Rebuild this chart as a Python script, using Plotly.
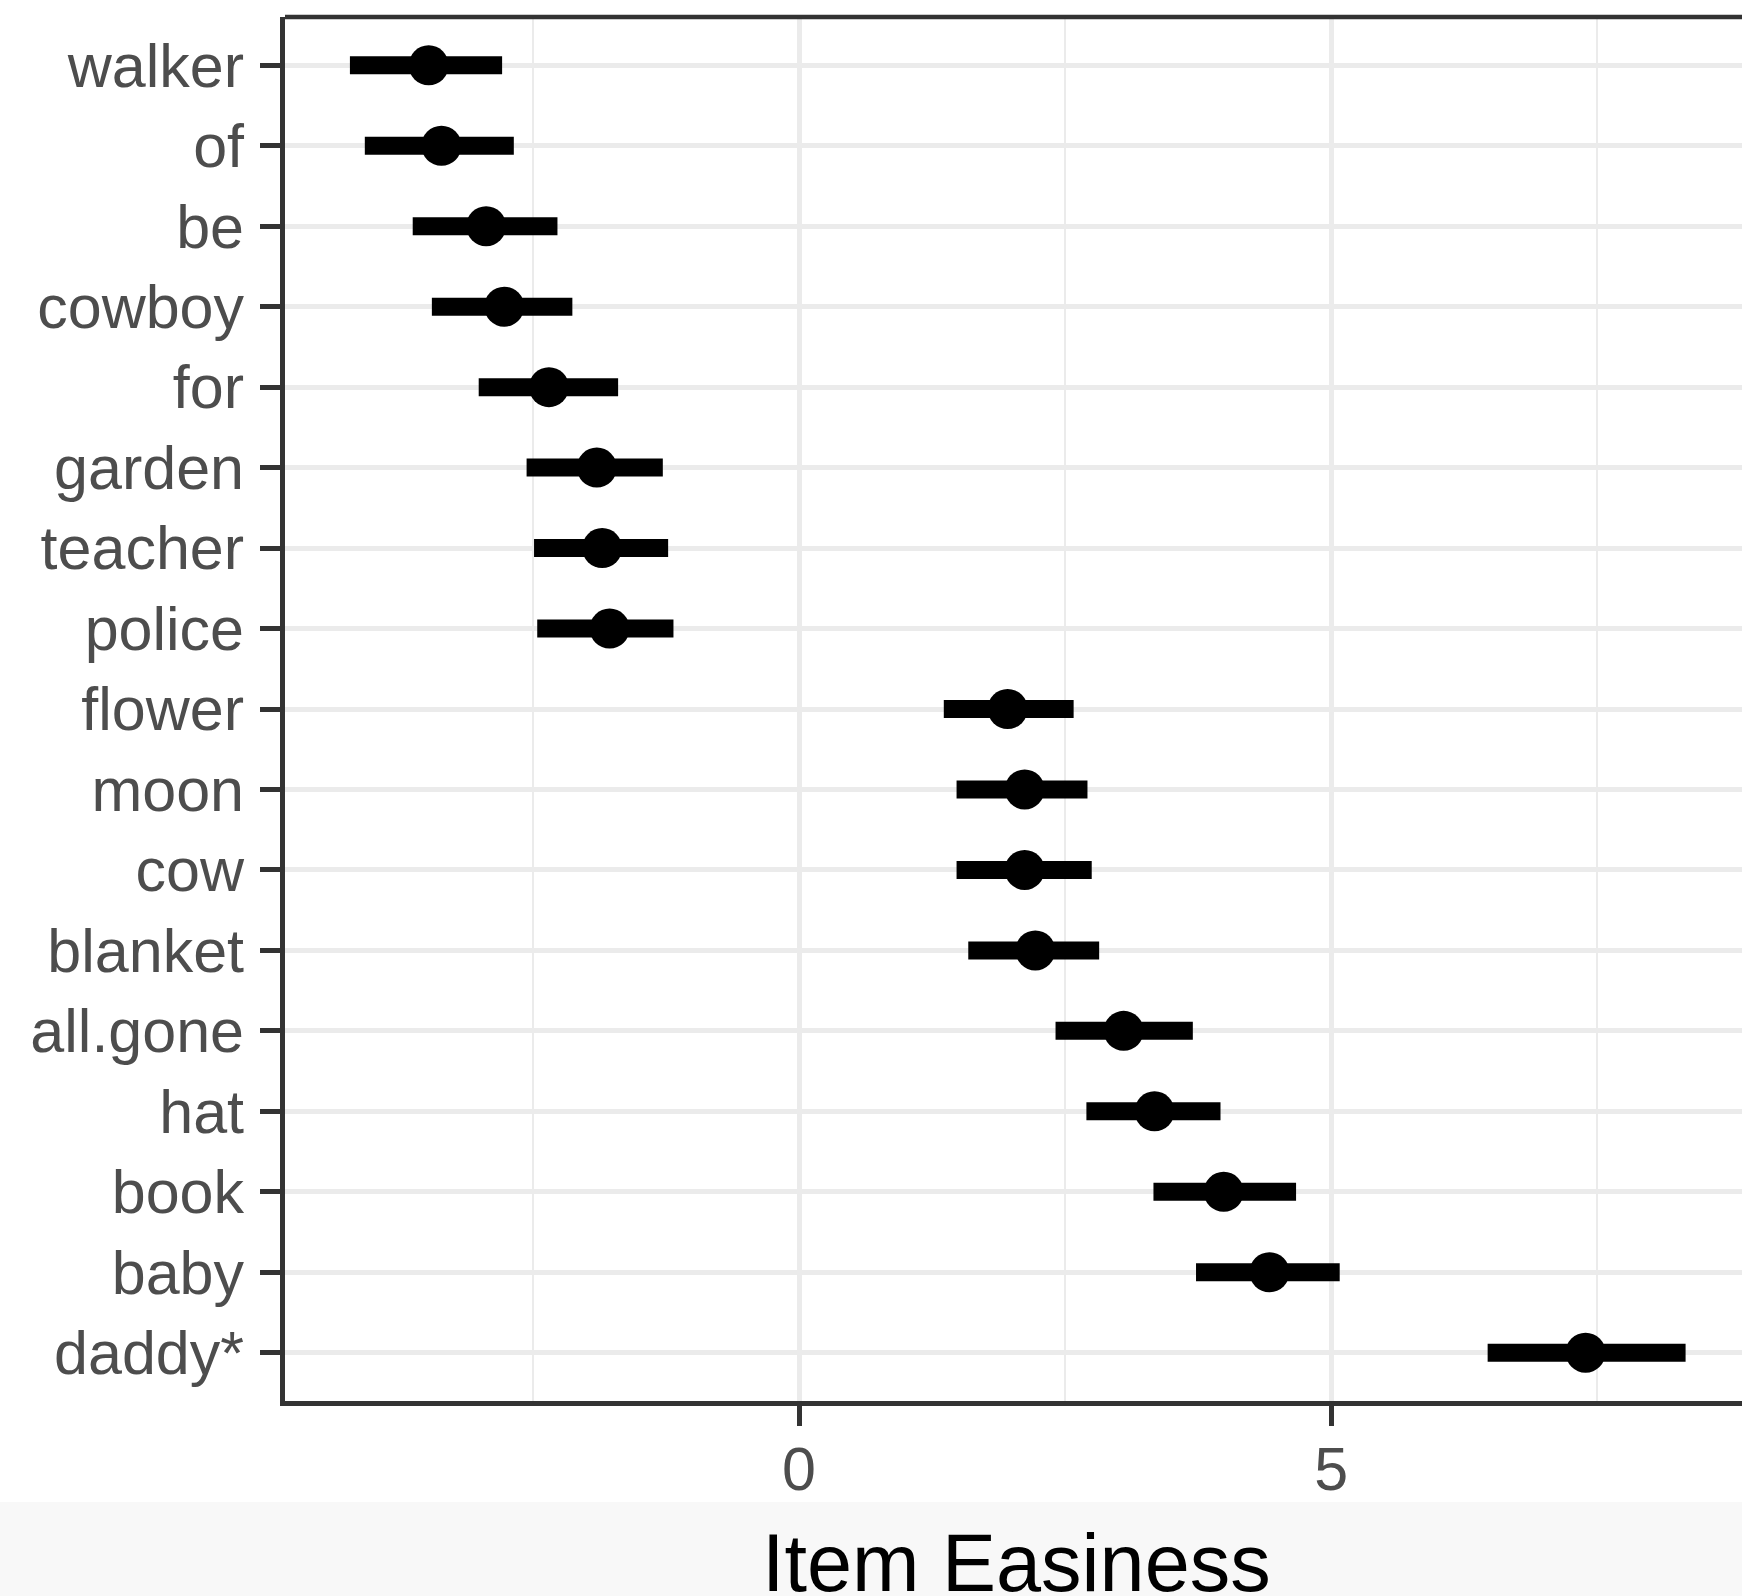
import plotly.graph_objects as go

items = ["walker", "of", "be", "cowboy", "for", "garden", "teacher", "police",
         "flower", "moon", "cow", "blanket", "all.gone", "hat", "book", "baby", "daddy*"]
easiness = [-3.48, -3.36, -2.94, -2.77, -2.35, -1.90, -1.85, -1.78,
            1.96, 2.12, 2.12, 2.22, 3.05, 3.34, 3.99, 4.42, 7.39]
lower = [-4.22, -4.08, -3.63, -3.45, -3.01, -2.56, -2.49, -2.46,
         1.36, 1.48, 1.48, 1.59, 2.41, 2.70, 3.33, 3.73, 6.47]
upper = [-2.79, -2.68, -2.27, -2.13, -1.70, -1.28, -1.23, -1.18,
         2.58, 2.71, 2.75, 2.82, 3.70, 3.96, 4.67, 5.08, 8.33]
x_ticks = [0, 5]
x_title = "Item Easiness"

W, H = 1742, 1596
L, R, T, B = 285, 0, 17, 195
ph = H - T - B

fig = go.Figure()
fig.add_trace(go.Scatter(
    x=easiness, y=items, mode="markers",
    marker=dict(color="black", size=40, line=dict(width=0)),
    error_x=dict(type="data", symmetric=False,
                 array=[u - e for u, e in zip(upper, easiness)],
                 arrayminus=[e - l for e, l in zip(easiness, lower)],
                 thickness=18, width=0, color="black"),
    showlegend=False, cliponaxis=False,
))

border = "#333333"
fig.update_layout(
    width=W, height=H,
    margin=dict(l=L, r=R, t=T, b=B, pad=0, autoexpand=False),
    paper_bgcolor="white", plot_bgcolor="white",
    font=dict(family="Liberation Sans, Arial, sans-serif", color="#4d4d4d", size=61),
    xaxis=dict(
        range=[-4.83, 8.86], tickmode="array", tickvals=x_ticks,
        ticktext=[str(v) for v in x_ticks],
        showgrid=True, gridcolor="#ebebeb", gridwidth=4.5,
        minor=dict(tickmode="linear", tick0=0, dtick=2.5, showgrid=True,
                   gridcolor="#ebebeb", gridwidth=2.3, ticks=""),
        zeroline=False, showline=True, linecolor=border, linewidth=4.5,
        ticks="outside", ticklen=20, tickwidth=4.5, tickcolor=border,
        tickfont=dict(size=61, color="#4d4d4d"), automargin=False,
        ticklabelstandoff=-9,
    ),
    yaxis=dict(
        type="category", categoryorder="array", categoryarray=items,
        range=[len(items) - 0.4, -0.6],
        showgrid=True, gridcolor="#ebebeb", gridwidth=4.5,
        zeroline=False, showline=True, linecolor=border, linewidth=4.5,
        ticks="outside", ticklen=20, tickwidth=4.5, tickcolor=border,
        tickfont=dict(size=61, color="#4d4d4d"), automargin=False,
        ticklabelstandoff=4,
    ),
    shapes=[
        dict(type="rect", xref="paper", yref="paper",
             x0=-L / (W - L - R) - 0.01, x1=1.01,
             y0=-(H - (T + ph)) / ph - 0.01, y1=-(1502 - (T + ph)) / ph,
             fillcolor="#f8f8f8", line=dict(width=0), layer="below"),
        dict(type="line", xref="paper", yref="paper", x0=0, x1=1.01, y0=1, y1=1,
             line=dict(color=border, width=4.5), layer="above"),
    ],
    annotations=[
        dict(text=x_title, xref="paper", yref="paper",
             x=(1016 - L) / (W - L - R), y=-(1563 - (T + ph)) / ph,
             xanchor="center", yanchor="middle", showarrow=False,
             font=dict(size=81, color="black", family="Liberation Sans, Arial, sans-serif")),
    ],
)

fig.write_html("out.html")
